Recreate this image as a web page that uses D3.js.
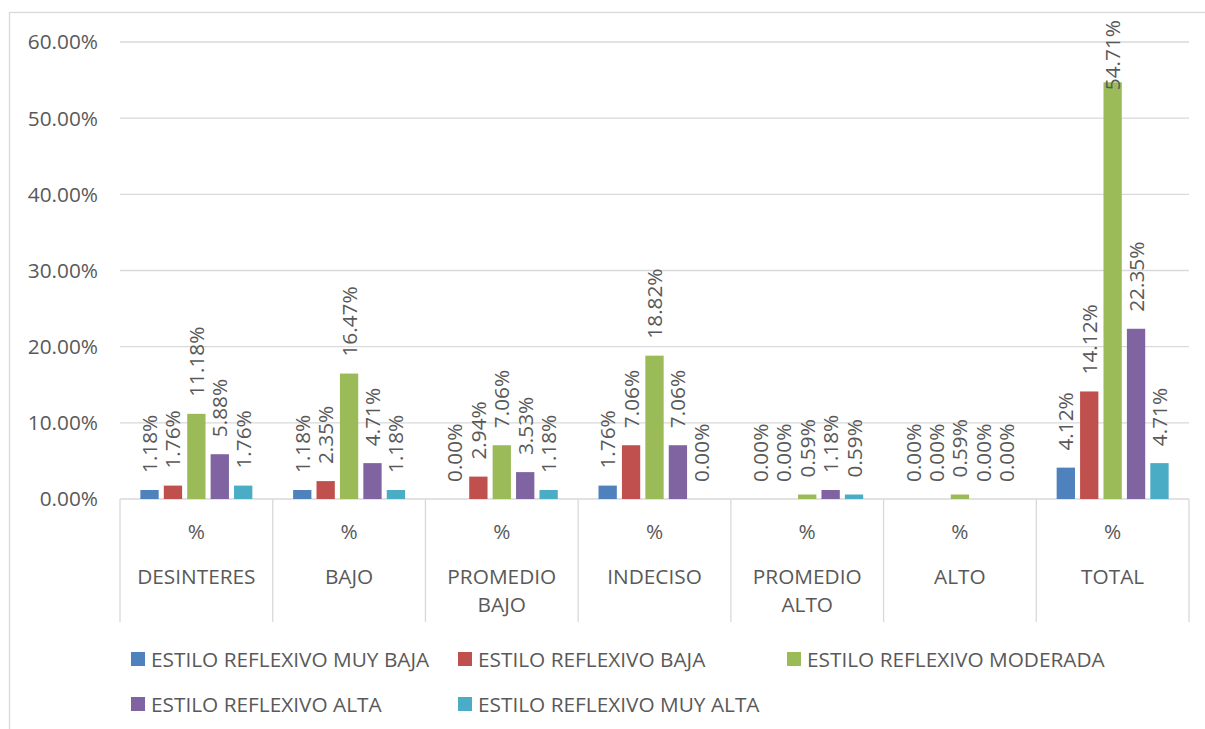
<!DOCTYPE html>
<html lang="es">
<head>
    <meta charset="UTF-8">
    <title>Estilo reflexivo</title>
    <style>
        body{
            margin: 0;
            background: #ffffff;
        }
        svg text{
            font-family: "Open Sans", sans-serif;
            fill: #595959;
            font-size: 20.8px;
        }
        .grid line{
            stroke: #d9d9d9;
            stroke-width: 1.3px;
        }
        .catbox line{
            stroke: #d9d9d9;
            stroke-width: 1.3px;
        }
    </style>
    <script src="https://cdn.jsdelivr.net/npm/d3@7"></script>
</head>
<body>
<script>

    // data (percent values)
    const categories = ["DESINTERES", "BAJO", "PROMEDIO BAJO", "INDECISO", "PROMEDIO ALTO", "ALTO", "TOTAL"];
    const seriesNames = ["ESTILO REFLEXIVO MUY BAJA", "ESTILO REFLEXIVO BAJA", "ESTILO REFLEXIVO MODERADA",
        "ESTILO REFLEXIVO ALTA", "ESTILO REFLEXIVO MUY ALTA"];
    const muyBaja  = [1.18, 1.18, 0.00, 1.76, 0.00, 0.00, 4.12];
    const baja     = [1.76, 2.35, 2.94, 7.06, 0.00, 0.00, 14.12];
    const moderada = [11.18, 16.47, 7.06, 18.82, 0.59, 0.59, 54.71];
    const alta     = [5.88, 4.71, 3.53, 7.06, 1.18, 0.00, 22.35];
    const muyAlta  = [1.76, 1.18, 1.18, 0.00, 0.59, 0.00, 4.71];
    const yTicks = [0, 10, 20, 30, 40, 50, 60];

    const colors = ["#4f81bd", "#c0504d", "#9bbb59", "#8064a2", "#4bacc6"];
    const seriesValues = [muyBaja, baja, moderada, alta, muyAlta];

    const width = 1205;
    const height = 729;
    const margins = {top: 42, bottom: 230, left: 120, right: 16};

    const svg = d3.select("body").append("svg")
        .attr("width", width)
        .attr("height", height);

    // chart frame
    svg.append("rect")
        .attr("x", 9.5)
        .attr("y", 12.5)
        .attr("width", width + 20)
        .attr("height", height + 20)
        .attr("fill", "none")
        .attr("stroke", "#d9d9d9")
        .attr("stroke-width", 1.3);

    const xScale = d3.scaleBand()
        .domain(categories)
        .range([margins.left, width - margins.right]);

    const xInner = d3.scaleBand()
        .domain(d3.range(seriesNames.length))
        .range([0, xScale.bandwidth()])
        .paddingInner(0.218)
        .paddingOuter(0.87);

    const yScale = d3.scaleLinear()
        .domain([0, 60])
        .range([height - margins.bottom, margins.top]);

    // gridlines
    svg.append("g")
        .attr("class", "grid")
        .selectAll("line")
        .data(yTicks.slice(1))
        .enter()
        .append("line")
        .attr("x1", margins.left)
        .attr("x2", width - margins.right)
        .attr("y1", d => yScale(d))
        .attr("y2", d => yScale(d));

    // y labels
    svg.append("g")
        .selectAll("text")
        .data(yTicks)
        .enter()
        .append("text")
        .attr("x", 98)
        .attr("y", d => yScale(d))
        .attr("dy", "0.36em")
        .style("text-anchor", "end")
        .text(d => d.toFixed(2) + "%");

    // category axis box
    const boxBottom = 622;
    const catbox = svg.append("g").attr("class", "catbox");
    catbox.append("line")
        .attr("x1", margins.left)
        .attr("x2", width - margins.right)
        .attr("y1", yScale(0))
        .attr("y2", yScale(0));
    catbox.selectAll("line.sep")
        .data(categories.concat(["end"]))
        .enter()
        .append("line")
        .attr("class", "sep")
        .attr("x1", (d, i) => margins.left + i * xScale.step())
        .attr("x2", (d, i) => margins.left + i * xScale.step())
        .attr("y1", yScale(0))
        .attr("y2", boxBottom);

    const catLabels = svg.append("g")
        .selectAll("g")
        .data(categories)
        .enter()
        .append("g")
        .attr("transform", d => `translate(${xScale(d) + xScale.bandwidth() / 2},0)`);

    catLabels.append("text")
        .attr("y", 532)
        .attr("dy", "0.36em")
        .style("text-anchor", "middle")
        .text("%");

    catLabels.each(function (d) {
        const words = d.split(" ");
        d3.select(this).selectAll("text.cat")
            .data(words)
            .enter()
            .append("text")
            .attr("class", "cat")
            .attr("y", (w, i) => 577 + i * 28)
            .attr("dy", "0.36em")
            .style("text-anchor", "middle")
            .text(w => w);
    });

    // bars
    const groups = svg.append("g")
        .selectAll("g")
        .data(categories)
        .enter()
        .append("g")
        .attr("transform", d => `translate(${xScale(d)},0)`);

    const cells = groups.selectAll("g")
        .data((d, ci) => seriesValues.map((vals, si) => ({si: si, v: vals[ci]})))
        .enter()
        .append("g");

    cells.append("rect")
        .attr("x", d => xInner(d.si))
        .attr("width", xInner.bandwidth())
        .attr("y", d => yScale(d.v))
        .attr("height", d => yScale(0) - yScale(d.v))
        .attr("fill", d => colors[d.si]);

    // rotated value labels, kept inside the chart area
    cells.append("text")
        .attr("dy", "0.36em")
        .text(d => d.v.toFixed(2) + "%")
        .attr("transform", function (d) {
            const len = this.getComputedTextLength();
            let y = yScale(d.v) - 17;
            if (y - len < 20) y = 20 + len;
            const x = xInner(d.si) + xInner.bandwidth() / 2;
            return `translate(${x},${y}) rotate(-90)`;
        });

    // legend
    const legendPos = [[131, 659], [458, 659], [787, 659], [131, 704], [458, 704]];
    const legend = svg.append("g")
        .selectAll("g")
        .data(seriesNames)
        .enter()
        .append("g")
        .attr("transform", (d, i) => `translate(${legendPos[i][0]},${legendPos[i][1]})`);

    legend.append("rect")
        .attr("x", 0)
        .attr("y", -7)
        .attr("width", 14)
        .attr("height", 14)
        .attr("fill", (d, i) => colors[i]);

    legend.append("text")
        .attr("x", 20)
        .attr("dy", "0.36em")
        .text(d => d);

</script>
</body>
</html>
